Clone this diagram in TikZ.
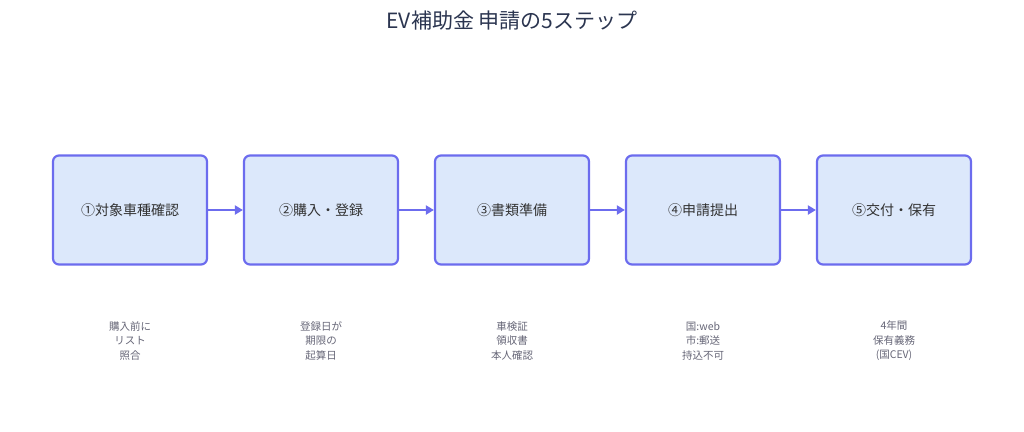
\documentclass[tikz,border=0pt]{standalone}
\usepackage{fontspec}
\setmainfont{Noto Sans CJK JP}
\usetikzlibrary{arrows.meta}
\definecolor{bd}{HTML}{6C6CEE}
\definecolor{fl}{HTML}{DCE8FB}
\definecolor{tx}{HTML}{333333}
\definecolor{gr}{HTML}{666677}
\definecolor{tt}{HTML}{2B3550}
\begin{document}
\begin{tikzpicture}[x=1pt,y=-1pt,
 box/.style={draw=bd,fill=fl,line width=2.2pt,rounded corners=6pt,minimum width=154pt,minimum height=109pt,font=\fontsize{14}{16}\selectfont,text=tx,inner sep=0pt},
 note/.style={align=center,font=\fontsize{10.5}{14.5}\selectfont,text=gr},
 arr/.style={draw=bd,line width=2.4pt,-{Triangle[length=8pt,width=9pt]}}]
\useasboundingbox (0,0) rectangle (1024,431);
\node[font=\fontsize{21}{24}\selectfont,text=tt] (title) at (512,21) {EV補助金 申請の5ステップ};
\node[box] (b1) at (130,210) {①対象車種確認};
\node[box] (b2) at (321,210) {②購入・登録};
\node[box] (b3) at (512,210) {③書類準備};
\node[box] (b4) at (703,210) {④申請提出};
\node[box] (b5) at (894,210) {⑤交付・保有};
\draw[arr] (b1) -- (b2);
\draw[arr] (b2) -- (b3);
\draw[arr] (b3) -- (b4);
\draw[arr] (b4) -- (b5);
\node[note] (n1) at (130,341) {購入前に\\リスト\\照合};
\node[note] (n2) at (321,341) {登録日が\\期限の\\起算日};
\node[note] (n3) at (512,341) {車検証\\領収書\\本人確認};
\node[note] (n4) at (703,341) {国:web\\市:郵送\\持込不可};
\node[note] (n5) at (894,341) {4年間\\保有義務\\(国CEV)};
\end{tikzpicture}
\end{document}
